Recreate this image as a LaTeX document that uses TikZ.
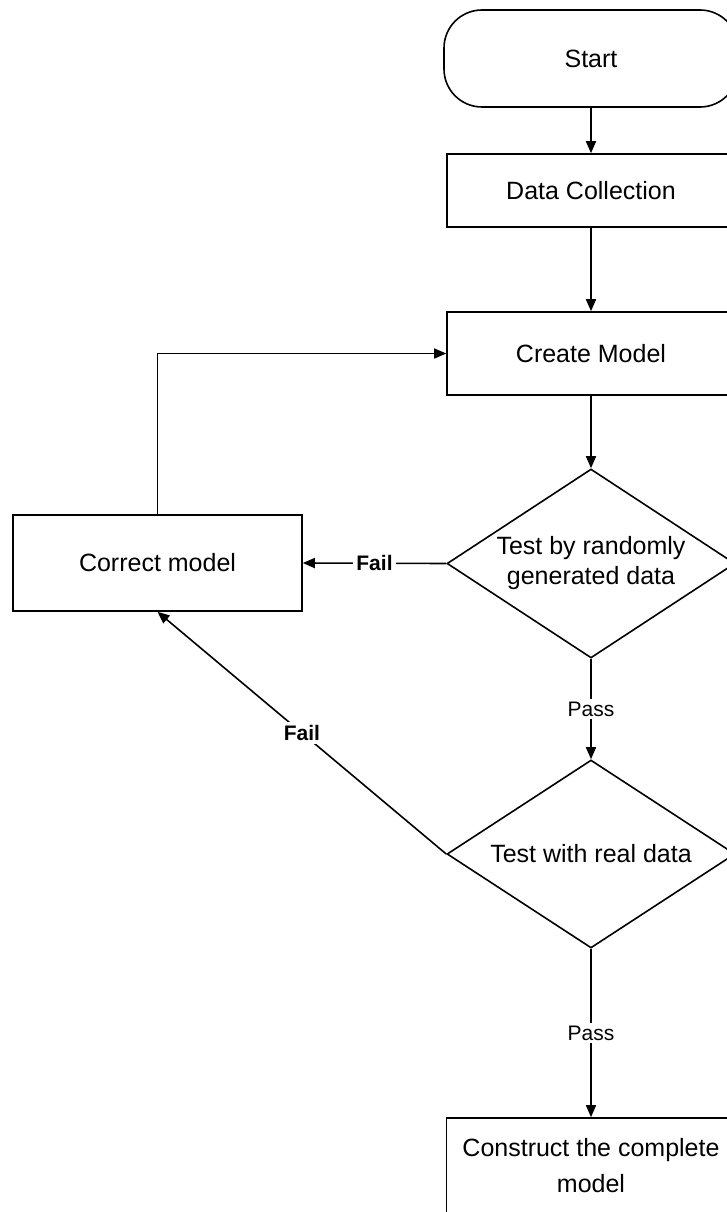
\documentclass[tikz,border=0pt]{standalone}
\usepackage{fontspec}
\setmainfont{Liberation Sans}
\usetikzlibrary{shapes.geometric,arrows.meta}
\begin{document}
\begin{tikzpicture}[x=1pt,y=-1pt, line width=1.6pt,
  every node/.style={font=\fontsize{25}{30}\selectfont},
  procbox/.style={draw, rectangle, inner sep=0pt, minimum width=288pt},
  termbox/.style={draw, rectangle, rounded corners=38pt, inner sep=0pt, minimum width=294pt, minimum height=97pt},
  decbox/.style={draw, diamond, aspect=1.52, inner sep=0pt, minimum width=288pt, minimum height=189pt, align=center},
  lbl/.style={fill=white, inner sep=3pt, font=\fontsize{21}{24}\selectfont},
  faillbl/.style={lbl, font=\fontsize{21}{24}\selectfont\bfseries},
  arr/.style={-{Triangle[length=12pt,width=10pt]}}]
\useasboundingbox (0,0) rectangle (727,1212);
\fill[white] (0,0) rectangle (727,1212);
\clip (0,0) rectangle (727,1212);

\node[termbox] (start) at (591,58.5) {Start};
\node[procbox, minimum height=73pt] (dc) at (591,190.5) {Data Collection};
\node[procbox, minimum height=83pt] (cm) at (591,353.5) {Create Model};
\node[decbox] (d1) at (591,563.5) {Test by randomly\\generated data};
\node[procbox, minimum width=289pt, minimum height=96pt] (corr) at (157.5,563) {Correct model};
\node[decbox, minimum height=188pt] (d2) at (591,854) {Test with real data};
\node[procbox, minimum width=289pt, minimum height=96pt, align=center,
      font=\fontsize{25}{36}\selectfont] (cons) at (591,1166) {Construct the complete\\model};

\draw[arr] (start) -- (dc);
\draw[arr] (dc) -- (cm);
\draw[arr] (cm) -- (d1);
\draw[arr] (d1.west) -- node[faillbl] {Fail} (corr.east);
\draw[arr] (d1.south) -- node[lbl] {Pass} (d2.north);
\draw[arr] (d2.west) -- node[faillbl] {Fail} (corr.south);
\draw[arr] (d2.south) -- node[lbl] {Pass} (cons.north);
\draw[arr] (corr.north) |- (cm.west);
\end{tikzpicture}
\end{document}
